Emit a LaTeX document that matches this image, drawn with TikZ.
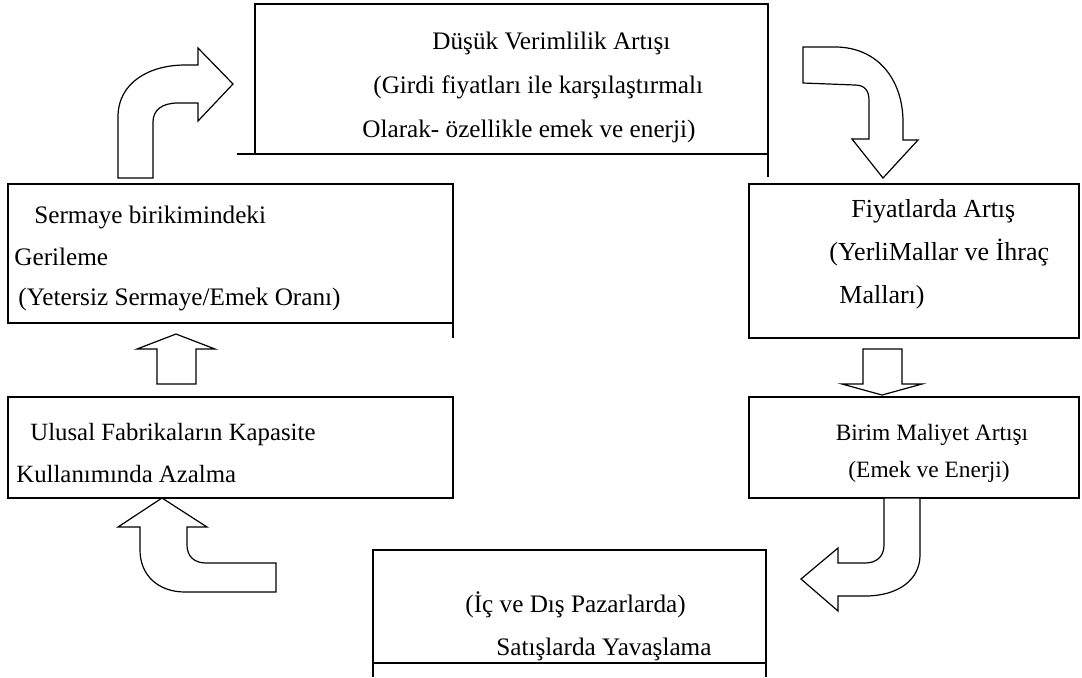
\documentclass[tikz,border=0pt]{standalone}
\usepackage{fontspec}
\setmainfont{Liberation Serif}
\begin{document}
\begin{tikzpicture}[x=0.5pt,y=-0.5pt,
  txt/.style={inner sep=0pt, anchor=base west, font=\fontsize{12.6}{15}\selectfont},
  toptxt/.style={inner sep=0pt, anchor=base west, font=\fontsize{12.6}{15}\selectfont},
  midtxt/.style={inner sep=0pt, anchor=base, font=\fontsize{11.7}{14}\selectfont},
  edge/.style={draw=black, line width=0.6pt},
  blockarrow/.style={draw=black, fill=white, line width=0.6pt, line join=miter}]
\useasboundingbox (0,0) rectangle (1082,677);

% box outlines
\coordinate (tA) at (255,154); \coordinate (tB) at (255,4); \coordinate (tC) at (768,4); \coordinate (tD) at (768,177);
\coordinate (tE) at (237,154); \coordinate (tF) at (768,154);
\draw[edge] (tA) -- (tB) -- (tC) -- (tD);
\draw[edge] (tE) -- (tF);

\coordinate (sA) at (453,338); \coordinate (sB) at (453,184); \coordinate (sC) at (8,184); \coordinate (sD) at (8,323); \coordinate (sE) at (453,323);
\draw[edge] (sA) -- (sB) -- (sC) -- (sD) -- (sE);

\coordinate (fA) at (749,184); \coordinate (fB) at (1079,338);
\draw[edge] (fA) rectangle (fB);
\coordinate (bA) at (749,397); \coordinate (bB) at (1079,498);
\draw[edge] (bA) rectangle (bB);
\coordinate (uA) at (8,397); \coordinate (uB) at (453,498);
\draw[edge] (uA) rectangle (uB);

\coordinate (pA) at (373,677); \coordinate (pB) at (373,550); \coordinate (pC) at (766,550); \coordinate (pD) at (766,677);
\coordinate (pE) at (373,663); \coordinate (pF) at (766,663);
\draw[edge] (pA) -- (pB) -- (pC) -- (pD);
\draw[edge] (pE) -- (pF);

% texts
\node[toptxt] (t1) at (432,49) {Düşük Verimlilik Artışı};
\node[toptxt] (t2) at (373,93) {(Girdi fiyatları ile karşılaştırmalı};
\node[toptxt] (t3) at (362,137) {Olarak- özellikle emek ve enerji)};

\node[txt] (s1) at (34,223) {Sermaye birikimindeki};
\node[txt] (s2) at (14,265) {Gerileme};
\node[txt] (s3) at (18,305) {(Yetersiz Sermaye/Emek Oranı)};

\node[txt,font=\fontsize{13}{15}\selectfont] (f1) at (851,217) {Fiyatlarda Artış};
\node[txt,font=\fontsize{13}{15}\selectfont] (f2) at (829,260) {(YerliMallar ve İhraç};
\node[txt,font=\fontsize{13}{15}\selectfont] (f3) at (839,303) {Malları)};

\node[midtxt] (b1) at (932,440) {Birim Maliyet Artışı};
\node[midtxt] (b2) at (929,477) {(Emek ve Enerji)};

\node[txt,font=\fontsize{12.4}{15}\selectfont] (u1) at (30,440) {Ulusal Fabrikaların Kapasite};
\node[txt,font=\fontsize{12.4}{15}\selectfont] (u2) at (16,482) {Kullanımında Azalma};

\node[txt] (p1) at (465,612) {(İç ve Dış Pazarlarda)};
\node[txt] (p2) at (496,655) {Satışlarda Yavaşlama};

% block arrows
% top-left: up then right
\draw[blockarrow] (118,178) -- (118,117) .. controls (118,82) and (150,65) .. (185,65)
  -- (198,65) -- (198,48) -- (233,84) -- (198,121) -- (198,103) -- (178,103)
  .. controls (162,103) and (153,110) .. (153,122) -- (153,178) -- cycle;

% top-right: right then down
\draw[blockarrow] (803,47) -- (835,47) .. controls (878,47) and (903,80) .. (903,122)
  -- (903,140) -- (918,140) -- (883,178) -- (852,139) -- (869,139) -- (869,100)
  .. controls (869,90) and (864,85) .. (855,85) -- (803,83) -- cycle;

% small down arrow
\draw[blockarrow] (863,349) -- (902,349) -- (902,384) -- (922,384) -- (882,395)
  -- (842,384) -- (863,384) -- cycle;

% bottom-right: down then left
\draw[blockarrow] (920,498) -- (920,555) .. controls (920,580) and (898,596) .. (865,596)
  -- (838,596) -- (838,611) -- (801,579) -- (838,548) -- (838,563) -- (865,563)
  .. controls (876,563) and (884,557) .. (884,545) -- (884,498) -- cycle;

% bottom-left: left then up
\draw[blockarrow] (276,592) -- (185,592) .. controls (158,592) and (140,575) .. (140,550)
  -- (140,527) -- (118,527) -- (162,498) -- (207,527) -- (187,527) -- (187,545)
  .. controls (187,556) and (194,563) .. (206,563) -- (276,563) -- cycle;

% small up arrow
\draw[blockarrow] (157,384) -- (157,349) -- (137,349) -- (176,334) -- (215,349)
  -- (196,349) -- (196,384) -- cycle;
\end{tikzpicture}
\end{document}
